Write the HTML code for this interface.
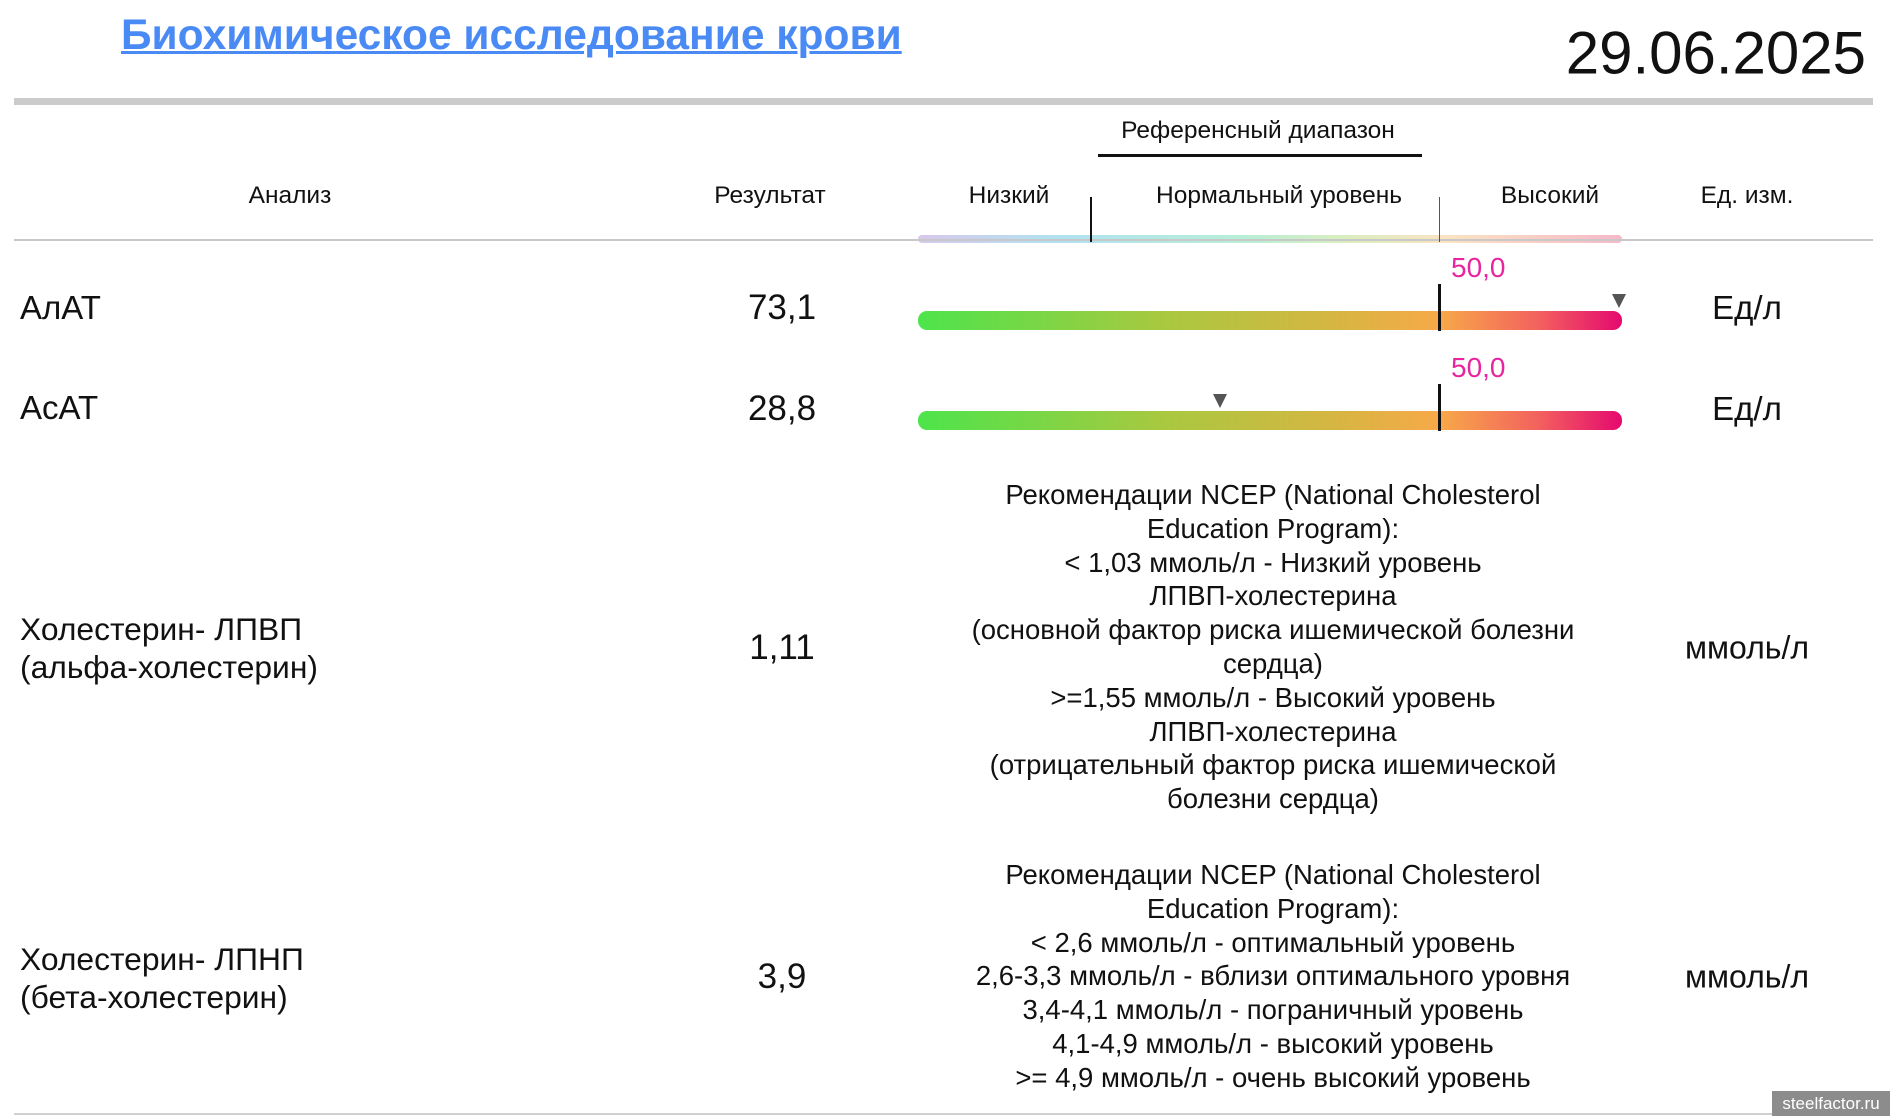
<!DOCTYPE html>
<html><head><meta charset="utf-8"><style>
body{margin:0;width:1890px;height:1116px;position:relative;background:#fff;overflow:hidden;font-family:"Liberation Sans","DejaVu Sans",sans-serif;color:#111}
.a{position:absolute;white-space:nowrap}
.c{transform:translate(-50%,-50%)}
.l{transform:translateY(-50%)}
.h{font-size:24.5px}
.r{font-size:33px}
.bar{position:absolute;left:918px;width:704px;height:19px;border-radius:9px;background:linear-gradient(90deg,#4de44b 0%,#a9c840 35%,#d8b543 60%,#f7a948 74%,#f3625e 88%,#e5096f 100%)}
.tri{position:absolute;width:0;height:0;border-left:7px solid transparent;border-right:7px solid transparent;border-top:14px solid #555}
.vl{position:absolute;background:#111}
.txt{position:absolute;left:1273px;transform:translateX(-50%);text-align:center;font-size:27.5px;line-height:33.8px;white-space:nowrap}
.mag{color:#e6259f;font-size:28px}
</style></head><body>
<div class="a" style="left:121px;top:48px;transform:translateY(-75%);font-size:42.5px;font-weight:bold;color:#4a8af4;text-decoration:underline;text-decoration-thickness:3px">Биохимическое исследование крови</div>
<div class="a" style="right:24px;top:53px;transform:translateY(-50%);font-size:60px">29.06.2025</div>
<div class="a" style="left:14px;top:98px;width:1859px;height:7px;background:#cbcbcb"></div>
<div class="a c h" style="left:1258px;top:131px">Референсный диапазон</div>
<div class="a" style="left:1098px;top:154px;width:324px;height:3px;background:#111"></div>
<div class="a c h" style="left:290px;top:196px">Анализ</div>
<div class="a c h" style="left:770px;top:196px">Результат</div>
<div class="a c h" style="left:1009px;top:196px">Низкий</div>
<div class="a c h" style="left:1279px;top:196px">Нормальный уровень</div>
<div class="a c h" style="left:1550px;top:196px">Высокий</div>
<div class="a c h" style="left:1747px;top:196px">Ед. изм.</div>
<div class="a" style="left:918px;top:235px;width:704px;height:8px;border-radius:4px;background:linear-gradient(90deg,#d8c8ec,#b0e2f2 20%,#b6eed8 45%,#d8eec0 60%,#fae3c2 75%,#f6b9c9 100%)"></div>
<div class="a" style="left:14px;top:239px;width:1859px;height:2px;background:#c8c8c8"></div>
<div class="vl" style="left:1090px;top:197px;width:2px;height:45px"></div>
<div class="vl" style="left:1439px;top:197px;width:1px;height:45px;background:#555"></div>

<div class="a l r" style="left:20px;top:308px">АлАТ</div>
<div class="a c r" style="left:782px;top:308px;font-size:35px">73,1</div>
<div class="bar" style="top:311px"></div>
<div class="vl" style="left:1438px;top:284px;width:3px;height:47px"></div>
<div class="a mag" style="left:1451px;top:252px">50,0</div>
<div class="tri" style="left:1612px;top:294px"></div>
<div class="a c r" style="left:1747px;top:308px">Ед/л</div>

<div class="a l r" style="left:20px;top:408px">АсАТ</div>
<div class="a c r" style="left:782px;top:409px;font-size:35px">28,8</div>
<div class="bar" style="top:411px"></div>
<div class="vl" style="left:1438px;top:384px;width:3px;height:47px"></div>
<div class="a mag" style="left:1451px;top:352px">50,0</div>
<div class="tri" style="left:1213px;top:394px"></div>
<div class="a c r" style="left:1747px;top:409px">Ед/л</div>

<div class="txt" style="top:478px">Рекомендации NCEP (National Cholesterol<br>Education Program):<br>&lt; 1,03 ммоль/л - Низкий уровень<br>ЛПВП-холестерина<br>(основной фактор риска ишемической болезни<br>сердца)<br>&gt;=1,55 ммоль/л - Высокий уровень<br>ЛПВП-холестерина<br>(отрицательный фактор риска ишемической<br>болезни сердца)</div>
<div class="a r" style="left:20px;top:610px;line-height:38px;font-size:31.8px">Холестерин- ЛПВП<br>(альфа-холестерин)</div>
<div class="a c r" style="left:782px;top:648px;font-size:35px">1,11</div>
<div class="a c r" style="left:1747px;top:648px;font-size:32px">ммоль/л</div>

<div class="txt" style="top:858px">Рекомендации NCEP (National Cholesterol<br>Education Program):<br>&lt; 2,6 ммоль/л - оптимальный уровень<br>2,6-3,3 ммоль/л - вблизи оптимального уровня<br>3,4-4,1 ммоль/л - пограничный уровень<br>4,1-4,9 ммоль/л - высокий уровень<br>&gt;= 4,9 ммоль/л - очень высокий уровень</div>
<div class="a r" style="left:20px;top:940px;line-height:38px;font-size:31.8px">Холестерин- ЛПНП<br>(бета-холестерин)</div>
<div class="a c r" style="left:782px;top:977px;font-size:35px">3,9</div>
<div class="a c r" style="left:1747px;top:977px;font-size:32px">ммоль/л</div>

<div class="a" style="left:14px;top:1113px;width:1859px;height:2px;background:#d0d0d0"></div>
<div class="a" style="left:1772px;top:1091px;width:118px;height:25px;background:#8c8c8c;color:#fff;font-size:17px;line-height:25px;text-align:center">steelfactor.ru</div>
</body></html>
